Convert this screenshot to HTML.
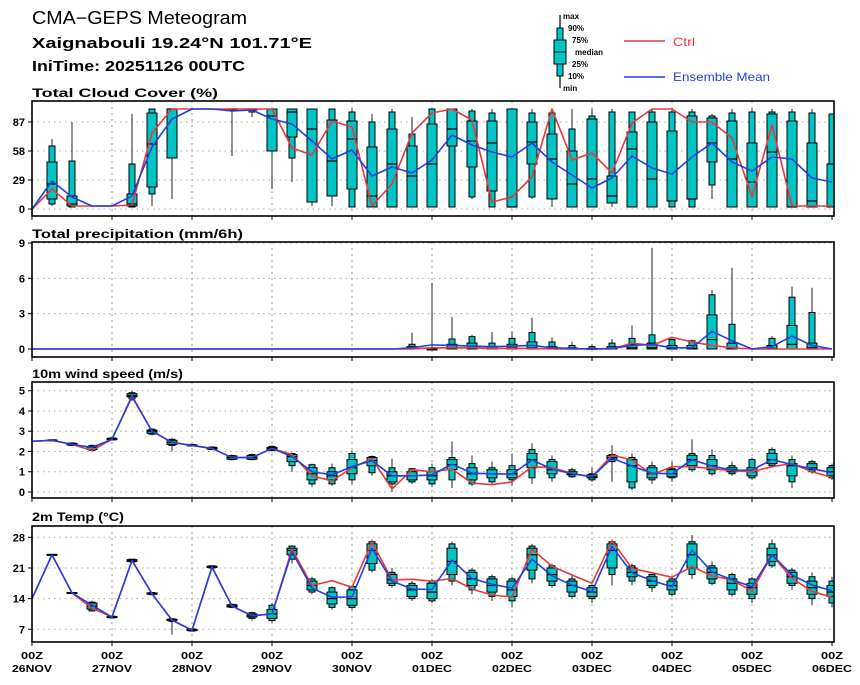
<!DOCTYPE html>
<html><head><meta charset="utf-8"><style>
body{margin:0;background:#fff;}
svg text{font-family:"Liberation Sans",sans-serif;}
</style></head><body>
<svg id="chart" width="860" height="680" viewBox="0 0 860 680" xmlns="http://www.w3.org/2000/svg">
<text x="32" y="24" font-size="18" fill="#000" textLength="215" lengthAdjust="spacingAndGlyphs">CMA−GEPS Meteogram</text>
<text x="32" y="48" font-size="15" font-weight="bold" fill="#000" textLength="280" lengthAdjust="spacingAndGlyphs">Xaignabouli 19.24°N 101.71°E</text>
<text x="32" y="71" font-size="15" font-weight="bold" fill="#000" textLength="213" lengthAdjust="spacingAndGlyphs">IniTime: 20251126 00UTC</text>
<g>
 <line x1="560" y1="15" x2="560" y2="88" stroke="#000" stroke-width="1.2"/>
 <rect x="557" y="28" width="6" height="48" fill="#00c8c8" stroke="#000"/>
 <rect x="554" y="40" width="12" height="24" fill="#00c8c8" stroke="#000"/>
 <line x1="554" y1="52" x2="566" y2="52" stroke="#000"/>
 <text x="563" y="19" font-size="8" font-weight="bold">max</text>
 <text x="568" y="31" font-size="8" font-weight="bold">90%</text>
 <text x="572" y="43" font-size="8" font-weight="bold">75%</text>
 <text x="575" y="55" font-size="8" font-weight="bold">median</text>
 <text x="572" y="67" font-size="8" font-weight="bold">25%</text>
 <text x="568" y="79" font-size="8" font-weight="bold">10%</text>
 <text x="563" y="91" font-size="8" font-weight="bold">min</text>
 <line x1="624" y1="41" x2="665" y2="41" stroke="#e8383c" stroke-width="1.6"/>
 <text x="673" y="46" font-size="12" fill="#e8383c" textLength="22" lengthAdjust="spacingAndGlyphs">Ctrl</text>
 <line x1="624" y1="77" x2="665" y2="77" stroke="#2040e0" stroke-width="1.6"/>
 <text x="673" y="81" font-size="12" fill="#2040e0" textLength="97" lengthAdjust="spacingAndGlyphs">Ensemble Mean</text>
</g>
<g id="panels"></g>
</svg>
<script>
const dayLabels=["26NOV","27NOV","28NOV","29NOV","30NOV","01DEC","02DEC","03DEC","04DEC","05DEC","06DEC"];
const cloudTicks=[0,29,58,87];
const precipTicks=[0,3,6,9];
const windTicks=[0,1,2,3,4,5];
const tempTicks=[7,14,21,28];

const cloudCtrl=[0,20,3,3,3,4,76,100,100,100,100,100,100,61,54,88,82,3,25,76,96,100,89,7,12,32,100,49,56,36,86,100,100,87,87,71,12,84,3,3,3];
const cloudMean=[0,28,12,3,3,13,62,90,100,100,98,99,90,85,68,50,59,33,42,36,49,74,64,57,52,66,47,34,21,31,53,41,35,52,66,47,38,52,50,31,27];
const cloudBox=[null,[3,5,10,25,47,63,70],[2,2,3,5,13,48,87],null,null,[2,2,3,5,15,45,95],[3,15,22,65,96,100,100],[10,51,51,100,100,100,100],null,null,[53,99,100,100,100,100,100],[92,97,100,100,100,100,100],[20,58,58,93,100,100,100],[27,51,72,97,100,100,100],[3,7,7,80,100,100,100],[3,13,13,48,89,100,100],[2,2,20,70,88,97,100],[2,2,2,13,62,87,95],[2,2,2,45,80,97,100],[2,2,2,33,63,75,92],[2,2,2,45,85,100,100],[2,2,63,80,100,100,100],[10,12,42,68,88,98,100],[2,2,18,66,88,96,100],[2,2,2,2,100,100,100],[10,12,45,67,87,96,100],[2,10,10,50,75,96,100],[2,2,2,25,58,80,100],[2,2,2,30,90,93,100],[2,6,6,13,33,97,100],[2,2,2,60,77,97,97],[2,2,2,30,87,97,100],[2,2,8,8,78,97,100],[2,2,10,10,93,97,100],[10,24,47,66,91,93,95],[2,2,2,50,88,96,100],[2,2,2,27,66,97,100],[2,2,2,57,95,97,100],[2,2,2,2,88,97,100],[2,2,2,8,66,96,100],[2,2,2,45,45,95,95]];

const precipCtrl=[0,0,0,0,0,0,0,0,0,0,0,0,0,0,0,0,0,0,0,0,0.1,0.1,0.1,0.05,0.05,0.05,0,0,0,0,0.5,0.3,1.0,0.6,0.3,0.1,0,0,0,0,0];
const precipMean=[0,0,0,0,0,0,0,0,0,0,0,0,0,0,0,0,0,0,0,0.1,0.35,0.3,0.25,0.2,0.25,0.3,0.1,0.05,0,0.05,0.3,0.4,0.1,0.1,1.5,0.7,0,0.2,1.1,0.3,0];
const precipBox=[null,null,null,null,null,null,null,null,null,null,null,null,null,null,null,null,null,null,null,[0,0,0,0.05,0.2,0.4,1.4],[0,0,0,0,0,0.05,5.6],[0,0,0,0.1,0.4,0.85,2.7],[0,0,0,0.1,0.5,1.05,1.2],[0,0,0,0.05,0.2,0.5,1.45],[0,0,0,0.1,0.4,0.9,1.5],[0,0,0,0.1,0.6,1.4,2.65],[0,0,0,0.05,0.2,0.6,1.0],[0,0,0,0,0.1,0.3,0.6],[0,0,0,0,0.05,0.2,0.4],[0,0,0,0.05,0.2,0.5,0.85],[0,0,0,0.1,0.4,0.9,2.0],[0,0,0,0.1,0.5,1.2,8.6],[0,0,0,0.05,0.3,0.8,0.9],[0,0,0,0.05,0.3,0.7,0.8],[0,0,0,0.8,2.9,4.6,5.0],[0,0,0,0.1,0.5,2.1,6.9],null,[0,0,0,0.05,0.3,0.9,1.1],[0,0,0,0.4,2.0,4.4,5.3],[0,0,0,0.1,0.5,3.1,5.2],null];

const windCtrl=[2.5,2.55,2.35,2.05,2.6,4.75,3.0,2.45,2.3,2.15,1.7,1.7,2.15,1.85,0.8,0.55,1.2,1.65,0.15,1.1,1.0,1.13,0.44,0.36,0.5,1.25,1.2,0.92,0.75,1.82,1.58,0.85,1.25,1.25,1.15,1.05,1.0,1.25,1.4,1.0,0.72];
const windMean=[2.5,2.55,2.35,2.2,2.6,4.7,3.0,2.45,2.3,2.15,1.7,1.7,2.15,1.75,1.0,0.85,1.25,1.55,0.8,0.8,0.84,1.38,0.93,0.9,0.88,1.58,1.13,0.9,0.75,1.67,1.28,0.93,0.9,1.6,1.28,1.08,1.08,1.6,1.35,1.15,0.95];
const windBox=[null,[2.5,2.52,2.53,2.55,2.57,2.58,2.6],[2.28,2.3,2.32,2.35,2.4,2.42,2.45],[2.0,2.05,2.1,2.2,2.25,2.3,2.35],[2.55,2.57,2.58,2.6,2.65,2.67,2.7],[4.5,4.6,4.7,4.75,4.85,4.9,5.0],[2.8,2.85,2.9,3.0,3.05,3.1,3.15],[2.0,2.3,2.35,2.45,2.55,2.6,2.65],[2.25,2.27,2.28,2.3,2.33,2.35,2.37],[2.05,2.1,2.12,2.15,2.2,2.22,2.25],[1.55,1.6,1.62,1.7,1.78,1.8,1.85],[1.55,1.6,1.62,1.7,1.8,1.85,1.9],[2.0,2.05,2.1,2.15,2.2,2.25,2.3],[1.0,1.3,1.5,1.75,1.85,1.9,1.95],[0.25,0.4,0.6,0.9,1.2,1.35,1.4],[0.3,0.4,0.6,0.8,1.0,1.2,1.4],[0.4,0.6,0.9,1.2,1.6,1.9,2.05],[0.8,0.95,1.3,1.55,1.7,1.75,1.8],[0,0.4,0.5,0.8,1.0,1.2,1.65],[0.4,0.5,0.6,0.8,1.0,1.15,1.2],[0.25,0.4,0.6,0.8,1.0,1.2,1.4],[0.2,0.6,1.1,1.35,1.6,1.7,2.5],[0.3,0.4,0.6,0.9,1.2,1.4,1.8],[0.4,0.5,0.7,0.9,1.1,1.2,1.5],[0.3,0.6,0.7,0.9,1.1,1.3,1.9],[0.4,0.7,1.2,1.6,1.9,2.1,2.4],[0.5,0.7,0.9,1.1,1.5,1.6,1.8],[0.7,0.75,0.85,0.9,1.0,1.1,1.2],[0.5,0.6,0.7,0.75,0.85,0.9,1.2],[0.5,1.5,1.6,1.7,1.8,1.85,2.3],[0.1,0.2,0.5,1.3,1.6,1.7,1.9],[0.4,0.6,0.7,0.9,1.2,1.3,1.5],[0.5,0.7,0.75,0.9,1.1,1.15,1.5],[1.0,1.1,1.3,1.6,1.8,1.9,2.6],[0.8,0.9,1.1,1.3,1.6,1.8,2.1],[0.8,0.9,1.0,1.1,1.2,1.3,1.5],[0.6,0.7,0.8,1.0,1.2,1.6,1.7],[1.2,1.3,1.4,1.6,1.9,2.1,2.2],[0.2,0.5,0.8,1.3,1.4,1.6,1.8],[0.9,1.0,1.1,1.2,1.4,1.5,1.6],[0.6,0.7,0.8,1.0,1.2,1.3,1.4]];

const tempCtrl=[14,24,15.3,11.8,9.8,22.7,15.1,9.1,6.8,21.2,12.3,10.1,10.5,25.3,17,18.1,16.6,26.9,18.3,18.4,18.0,18.6,16.2,14.8,14.4,25.3,21.4,19.4,17.5,27.2,20.9,19.9,18.9,21.3,19.2,18.3,15.7,24,18.6,15.7,14.3];
const tempMean=[14,24,15.3,12.5,9.8,22.7,15.1,9.1,6.8,21.2,12.3,10.1,10.5,24.7,16.4,14.3,14.4,25.5,18,16.2,16.1,22.8,18.6,17.3,16.4,23,19.2,17.1,15.6,25.9,19.9,18.1,16.7,25.1,20.1,18.3,16.7,24,19.4,17.1,15.8];
const tempBox=[null,[23.8,23.9,24,24,24.1,24.1,24.2],[15.1,15.2,15.2,15.3,15.4,15.4,15.5],[11,11.2,11.6,12.3,13,13.2,13.5],[9.5,9.6,9.7,9.8,9.9,10,10.1],[22.3,22.4,22.5,22.7,22.9,23,23.1],[14.8,14.9,15,15.1,15.3,15.4,15.5],[5.8,8.8,9,9.1,9.3,9.4,9.5],[6.5,6.6,6.7,6.8,7,7.1,7.2],[20.9,21,21.1,21.2,21.4,21.5,21.6],[11.8,12,12.1,12.3,12.6,12.7,12.9],[9,9.5,9.8,10.1,10.5,10.8,11],[8.5,9,9.5,10.5,11.5,12.5,13],[22,23,24,25,25.5,26,26.2],[15,15.5,16,17,18,18.5,19],[11.5,12,12.8,14,15.5,16.5,16.8],[11.5,12,12.5,14,16,16.8,17],[20,20.5,22,25,26.5,27,27.5],[16.5,17,17.5,18.3,19.5,20,21],[13.5,14,14.5,16,17,17.5,18],[13,13.5,14,15.5,17.5,18,18.5],[17,18,19.5,22.5,25.5,26.5,27],[15,16,17,18.5,20,20.5,21],[13.5,14.5,15.5,17,18.5,19,19.5],[12,13.5,14.5,16,18,18.5,19],[17.5,18.5,20.5,24,25.5,26,26.5],[16.5,17,18,19.5,21,21.5,22],[14,14.5,15.5,17,18,18.5,19.5],[13,14,14.5,15.5,16.5,17,17.5],[17,19.5,21,25,26.5,27,27.5],[17,18,19,20,21,21.5,22],[15.5,16.5,17,18,19,19.5,20],[14.5,15,16,17,18,18.5,19],[18.5,19.5,21,24,26.5,27,28.5],[17,17.5,18.5,20,21,21.5,22.5],[14.5,15,16,17.5,18.5,19.5,20],[13,14,15,16.5,17.5,18.5,19],[21,21.5,22.5,24,25.5,26.5,27.5],[16,17,17.5,19,20,20.5,21],[12.5,14,15,16.5,18,19,20],[12,13,14.5,15.5,17,18,19]];

const NS="http://www.w3.org/2000/svg";
const X0=32,X1=834,NSTEP=40;
function xAt(i){return X0+(832-X0)*i/NSTEP;}
function mk(tag,attrs,parent){const e=document.createElementNS(NS,tag);for(const k in attrs)e.setAttribute(k,attrs[k]);parent.appendChild(e);return e;}
const root=document.getElementById('panels');

const panels=[
 {name:'cloud',title:'Total Cloud Cover (%)',tw:186,top:101,bot:216,v0:0,y0:209,v1:87,y1:122,ticks:cloudTicks,ctrl:cloudCtrl,mean:cloudMean,box:cloudBox,ty:97},
 {name:'precip',title:'Total precipitation (mm/6h)',tw:211,top:242,bot:357,v0:0,y0:349,v1:9,y1:243,ticks:precipTicks,ctrl:precipCtrl,mean:precipMean,box:precipBox,ty:238},
 {name:'wind',title:'10m wind speed (m/s)',tw:151,top:382,bot:498,v0:0,y0:492,v1:5,y1:390.7,ticks:windTicks,ctrl:windCtrl,mean:windMean,box:windBox,ty:378},
 {name:'temp',title:'2m Temp (°C)',tw:92,top:526,bot:642,v0:7,y0:629.3,v1:28,y1:537.3,ticks:tempTicks,ctrl:tempCtrl,mean:tempMean,box:tempBox,ty:521}
];

panels.forEach((p,pi)=>{
 const yAt=v=>p.y0+(v-p.v0)*(p.y1-p.y0)/(p.v1-p.v0);
 const g=mk('g',{},root);
 
 
 const t=mk('text',{x:32,y:p.ty,'font-size':12,'font-weight':'bold',textLength:p.tw,lengthAdjust:'spacingAndGlyphs'},g);
 
 
 t.textContent=p.title;
 const cp=mk('clipPath',{id:'clip'+pi},g);
 mk('rect',{x:X0,y:p.top,width:X1-X0,height:p.bot-p.top},cp);
 p.ticks.forEach(v=>{
  const y=yAt(v);
  const gl=mk('line',{x1:X0,x2:X1,y1:y,y2:y,stroke:'#aaa','stroke-dasharray':'1.5 4','stroke-width':1},g);
  
  
  mk('line',{x1:X0-4,x2:X0,y1:y,y2:y,stroke:'#000'},g);
  const tl=mk('text',{x:X0-7,y:y+4,'font-size':11,'font-weight':'bold','text-anchor':'end'},g);
  
  
  tl.textContent=v;
 });
 dayLabels.forEach((d,di)=>{
  const x=xAt(di*4);
  if(di>0&&di<dayLabels.length-1){
   const vl=mk('line',{x1:x,x2:x,y1:p.top,y2:p.bot,stroke:'#999','stroke-dasharray':'2 4','stroke-width':1},g);
   
   
  }
  mk('line',{x1:x,x2:x,y1:p.bot,y2:p.bot+4,stroke:'#000'},g);
 });
 const cg=mk('g',{'clip-path':'url(#clip'+pi+')'},g);
 p.box.forEach((b,i)=>{
  if(!b)return;
  const x=xAt(i);
  const bg=mk('g',{},cg);
  
  
  mk('line',{x1:x,x2:x,y1:yAt(b[0]),y2:yAt(b[6]),stroke:'#222','stroke-width':1},bg);
  const y90=yAt(b[5]),y10=yAt(b[1]);
  mk('rect',{x:x-3,y:Math.min(y90,y10),width:6,height:Math.max(1,Math.abs(y10-y90)),fill:'#00c4c4',stroke:'#000','stroke-width':1},bg);
  const y75=yAt(b[4]),y25=yAt(b[2]);
  mk('rect',{x:x-5,y:Math.min(y75,y25),width:10,height:Math.max(1,Math.abs(y25-y75)),fill:'#00c4c4',stroke:'#000','stroke-width':1},bg);
  const ym=yAt(b[3]);
  mk('line',{x1:x-5,x2:x+5,y1:ym,y2:ym,stroke:'#000','stroke-width':1.2},bg);
 });
 const line=(arr,col,nm)=>{
  const pts=arr.map((v,i)=>xAt(i)+','+yAt(v)).join(' ');
  const pl=mk('polyline',{points:pts,fill:'none',stroke:col,'stroke-width':1.6,'stroke-linejoin':'round'},cg);
  
  
 };
 line(p.ctrl,'#e8383c',p.name+'-ctrl-line');
 line(p.mean,'#2040e0',p.name+'-mean-line');
 const fr=mk('rect',{x:X0,y:p.top,width:X1-X0,height:p.bot-p.top,fill:'none',stroke:'#000','stroke-width':1.6},g);
 
 
});
const xg=mk('g',{},root);


dayLabels.forEach((d,di)=>{
 const x=xAt(di*4);
 const a=mk('text',{x:x,y:659,'font-size':10,'font-weight':'bold','text-anchor':'middle',textLength:22,lengthAdjust:'spacingAndGlyphs'},xg);
 
 
 a.textContent='00Z';
 const b=mk('text',{x:x,y:672,'font-size':10,'font-weight':'bold','text-anchor':'middle',textLength:40,lengthAdjust:'spacingAndGlyphs'},xg);
 
 
 b.textContent=d;
});
</script>
</body></html>
